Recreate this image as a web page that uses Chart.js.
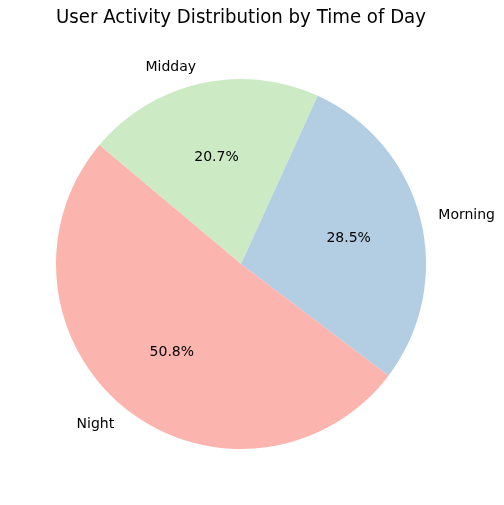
<!DOCTYPE html>
<html>
<head>
<meta charset="utf-8">
<script src="https://cdn.jsdelivr.net/npm/chart.js@4"></script>
<style>
html,body{margin:0;padding:0;background:#fff;}
#wrap{width:504px;height:505px;position:relative;}
</style>
</head>
<body>
<div id="wrap"><canvas id="c" width="504" height="505"></canvas></div>
<script>
// Data in clockwise drawing order (matplotlib draws counter-clockwise from 140°)
const categories = ["Midday", "Morning", "Night"];
const shares = [20.7, 28.5, 50.8];
const sliceColors = ["#ccebc5", "#b3cde3", "#fbb4ae"];
const chartTitle = "User Activity Distribution by Time of Day";

const FONT = "'DejaVu Sans', sans-serif";

const labelPlugin = {
  id: 'pieLabels',
  afterDatasetsDraw(chart) {
    const ctx = chart.ctx;
    const meta = chart.getDatasetMeta(0);
    ctx.save();
    ctx.fillStyle = '#000';
    ctx.font = '14px ' + FONT;
    meta.data.forEach((arc, i) => {
      const p = arc.getProps(['x','y','startAngle','endAngle','outerRadius'], true);
      const mid = (p.startAngle + p.endAngle) / 2;
      const c = Math.cos(mid), s = Math.sin(mid);
      // outer label at 1.1 R
      const lx = p.x + c * p.outerRadius * 1.1;
      const ly = p.y + s * p.outerRadius * 1.1 + 1.5;
      ctx.textAlign = c > 0 ? 'left' : 'right';
      ctx.textBaseline = 'middle';
      ctx.fillText(categories[i], lx, ly);
      // percentage at 0.6 R
      const px = p.x + c * p.outerRadius * 0.6;
      const py = p.y + s * p.outerRadius * 0.6 + 1.5;
      ctx.textAlign = 'center';
      ctx.fillText(shares[i].toFixed(1) + '%', px, py);
    });
    ctx.restore();
  }
};

new Chart(document.getElementById('c'), {
  type: 'pie',
  data: {
    labels: categories,
    datasets: [{
      data: shares,
      backgroundColor: sliceColors,
      borderWidth: 0,
      hoverOffset: 0
    }]
  },
  options: {
    responsive: false,
    animation: false,
    rotation: -50,
    layout: { padding: { left: 56, right: 78, top: 0, bottom: 7 } },
    plugins: {
      legend: { display: false },
      tooltip: { enabled: false },
      title: {
        display: true,
        text: chartTitle,
        color: '#000',
        font: { family: FONT, size: 20, weight: 'normal', lineHeight: 1.2 },
        padding: { top: 6, bottom: 0 }
      }
    }
  },
  plugins: [labelPlugin]
});
</script>
</body>
</html>
